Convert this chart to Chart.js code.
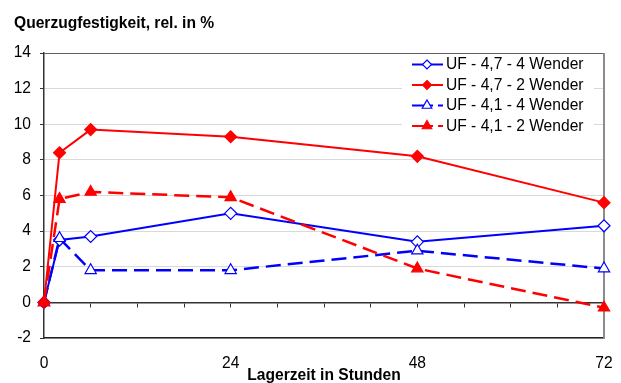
<!DOCTYPE html>
<html>
<head>
<meta charset="utf-8">
<script src="https://cdn.jsdelivr.net/npm/chart.js@4.4.1/dist/chart.umd.min.js"></script>
<style>
html,body{margin:0;padding:0;background:#fff;}
#wrap{width:621px;height:383px;position:relative;}
</style>
</head>
<body>
<div id="wrap"><canvas id="c" width="621" height="383"></canvas></div>
<script>
const hours = [0, 2, 6, 24, 48, 72];
const seriesNames = ['UF - 4,7 - 4 Wender', 'UF - 4,7 - 2 Wender', 'UF - 4,1 - 4 Wender', 'UF - 4,1 - 2 Wender'];
const uf47w4 = [0, 3.5, 3.7, 5.0, 3.4, 4.3];
const uf47w2 = [0, 8.4, 9.7, 9.3, 8.2, 5.6];
const uf41w4 = [0, 3.6, 1.8, 1.8, 2.9, 1.9];
const uf41w2 = [0, 5.8, 6.2, 5.9, 1.9, -0.3];
const xTickLabels = [0, 24, 48, 72];
const yTitle = 'Querzugfestigkeit, rel. in %';
const xTitle = 'Lagerzeit in Stunden';

const FONT = "'Liberation Sans', Arial, sans-serif";
const FS = 15.6;
const toXY = arr => arr.map((v, i) => ({x: hours[i], y: v}));

const datasets = [
  {label: seriesNames[0], data: toXY(uf47w4), borderColor: '#0000ff', backgroundColor: '#ffffff',
   pointStyle: 'rectRot', pointRadius: 6, pointBorderWidth: 1.2, borderWidth: 2, order: 3},
  {label: seriesNames[1], data: toXY(uf47w2), borderColor: '#ff0000', backgroundColor: '#ff0000',
   pointStyle: 'rectRot', pointRadius: 6, pointBorderWidth: 1.2, borderWidth: 2, order: 2},
  {label: seriesNames[2], data: toXY(uf41w4), borderColor: '#0000ff', backgroundColor: '#ffffff',
   pointStyle: 'triangle', pointRadius: 6.5, pointBorderWidth: 1.2, borderWidth: 2.5, borderDash: [15, 7], order: 1},
  {label: seriesNames[3], data: toXY(uf41w2), borderColor: '#ff0000', backgroundColor: '#ff0000',
   pointStyle: 'triangle', pointRadius: 6.5, pointBorderWidth: 1.2, borderWidth: 2.5, borderDash: [15, 7], order: 0}
];

function drawMarker(ctx, style, x, y, r, fill, stroke, lw) {
  ctx.save();
  ctx.beginPath();
  if (style === 'rectRot') {
    ctx.moveTo(x, y - r); ctx.lineTo(x + r, y); ctx.lineTo(x, y + r); ctx.lineTo(x - r, y); ctx.closePath();
  } else {
    const w = r * Math.sqrt(3);
    ctx.moveTo(x, y - r); ctx.lineTo(x + w / 2, y + r / 2); ctx.lineTo(x - w / 2, y + r / 2); ctx.closePath();
  }
  ctx.fillStyle = fill; ctx.fill();
  ctx.strokeStyle = stroke; ctx.lineWidth = lw; ctx.setLineDash([]); ctx.stroke();
  ctx.restore();
}

const framePlugin = {
  id: 'frame',
  beforeDatasetsDraw(chart) {
    const {ctx, chartArea: a} = chart;
    ctx.save();
    ctx.lineWidth = 1;
    ctx.strokeStyle = '#606060';
    ctx.beginPath(); ctx.moveTo(a.left, a.top + 0.5); ctx.lineTo(a.right, a.top + 0.5); ctx.stroke();
    ctx.strokeStyle = '#8c8c8c';
    ctx.lineWidth = 2;
    ctx.beginPath(); ctx.moveTo(a.right, a.top); ctx.lineTo(a.right, a.bottom); ctx.stroke();
    ctx.restore();
  }
};

const legendPlugin = {
  id: 'innerLegend',
  afterDraw(chart) {
    const {ctx} = chart;
    const rows = [64.5, 85, 105.5, 126];
    ctx.save();
    ctx.fillStyle = '#ffffff';
    ctx.fillRect(402, 55, 192, 81);
    chart.data.datasets.forEach((ds, i) => {
      const y = rows[i];
      ctx.save();
      ctx.strokeStyle = ds.borderColor;
      ctx.lineWidth = 2;
      if (ds.borderDash) ctx.setLineDash([21, 5]);
      ctx.beginPath(); ctx.moveTo(412, y); ctx.lineTo(443, y); ctx.stroke();
      ctx.restore();
      drawMarker(ctx, ds.pointStyle, 427, y, ds.pointStyle === 'rectRot' ? 4.5 : 5.5, ds.backgroundColor, ds.borderColor, 1.2);
      ctx.fillStyle = '#000';
      ctx.font = FS + 'px ' + FONT;
      ctx.textBaseline = 'middle';
      ctx.textAlign = 'left';
      ctx.fillText(ds.label, 446, y + 0.5);
    });
    ctx.restore();
  }
};

const noPad = s => { s.paddingLeft = 0; s.paddingRight = 0; };

new Chart(document.getElementById('c'), {
  type: 'line',
  data: {datasets},
  plugins: [framePlugin, legendPlugin],
  options: {
    responsive: false,
    animation: false,
    layout: {padding: {left: 14, right: 17, top: 0, bottom: 0}},
    elements: {line: {tension: 0, fill: false}},
    clip: false,
    plugins: {
      legend: {display: false},
      tooltip: {enabled: false},
      title: {
        display: true, text: yTitle, align: 'start', color: '#000',
        font: {family: FONT, size: FS, weight: 'bold', lineHeight: 1.2},
        padding: {top: 14.5, bottom: 19.8}
      }
    },
    scales: {
      x: {
        type: 'linear', min: 0, max: 72, position: {y: 0},
        ticks: {stepSize: 6, display: false},
        afterFit: s => { s.height = 0; noPad(s); },
        grid: {drawOnChartArea: false, drawTicks: true, tickLength: 4, color: '#333', lineWidth: 1},
        border: {display: true, color: '#333', width: 1.5}
      },
      x2: {
        type: 'linear', min: 0, max: 72, position: 'bottom', axis: 'x',
        afterBuildTicks: s => { s.ticks = xTickLabels.map(v => ({value: v})); },
        afterFit: s => { s.height = 45; noPad(s); },
        ticks: {color: '#000', font: {family: FONT, size: FS}, padding: 16, maxRotation: 0},
        grid: {display: false, drawTicks: false},
        border: {display: true, color: '#222', width: 1.5},
        title: {display: true, text: xTitle, color: '#000', font: {family: FONT, size: FS, weight: 'bold', lineHeight: 1}, padding: {top: 0, bottom: 0}}
      },
      y: {
        type: 'linear', min: -2, max: 14,
        ticks: {stepSize: 2, color: '#000', font: {family: FONT, size: FS}, padding: 9},
        afterFit: s => { s.width = 30; },
        grid: {color: ctx => (ctx.tick && ctx.tick.value === 14 ? 'rgba(0,0,0,0)' : '#d9d9d9'), lineWidth: 1, tickLength: 4, tickColor: '#333'},
        border: {display: true, color: '#333', width: 1.5}
      }
    }
  }
});
</script>
</body>
</html>
